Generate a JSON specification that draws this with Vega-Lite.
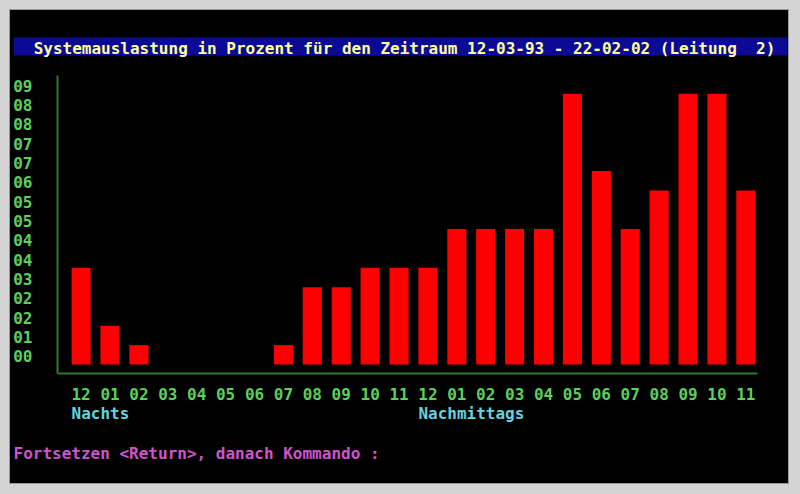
{
  "$schema": "https://vega.github.io/schema/vega-lite/v6.json",
  "width": 779,
  "height": 474,
  "autosize": {"type": "none"},
  "padding": {"left": 9, "top": 9, "right": 12, "bottom": 11},
  "background": "#d4d4d4",
  "config": {
    "view": {"fill": "#000000", "stroke": "#9a9a9a", "strokeWidth": 1},
    "font": "DejaVu Sans Mono",
    "axis": {"grid": false, "ticks": false, "tickSize": 0, "labelFont": "DejaVu Sans Mono", "titleFont": "DejaVu Sans Mono", "labelFontSize": 16, "titleFontSize": 16, "labelFontWeight": "bold", "titleFontWeight": "bold", "labelOverlap": false, "labelBound": false, "labelFlush": false}
  },
  "layer": [
    {
      "data": {"values": [
        {"hour": "12a", "load": 5, "period": "Nachts"},
        {"hour": "01a", "load": 2},
        {"hour": "02a", "load": 1},
        {"hour": "03a", "load": 0},
        {"hour": "04a", "load": 0},
        {"hour": "05a", "load": 0},
        {"hour": "06a", "load": 0},
        {"hour": "07a", "load": 1},
        {"hour": "08a", "load": 4},
        {"hour": "09a", "load": 4},
        {"hour": "10a", "load": 5},
        {"hour": "11a", "load": 5},
        {"hour": "12p", "load": 5, "period": "Nachmittags"},
        {"hour": "01p", "load": 7},
        {"hour": "02p", "load": 7},
        {"hour": "03p", "load": 7},
        {"hour": "04p", "load": 7},
        {"hour": "05p", "load": 14},
        {"hour": "06p", "load": 10},
        {"hour": "07p", "load": 7},
        {"hour": "08p", "load": 9},
        {"hour": "09p", "load": 14},
        {"hour": "10p", "load": 14},
        {"hour": "11p", "load": 9}
      ]},
      "layer": [
        {
          "mark": {"type": "bar", "color": "#ff0000"},
          "encoding": {
            "x": {
              "field": "hour", "type": "nominal", "sort": null,
              "scale": {
                "domain": ["12a","01a","02a","03a","04a","05a","06a","07a","08a","09a","10a","11a","12p","01p","02p","03p","04p","05p","06p","07p","08p","09p","10p","11p"],
                "range": [48, 748], "paddingInner": 0.34, "paddingOuter": 0.28, "align": 0.9
              },
              "axis": {
                "orient": "bottom", "offset": -110, "domainColor": "#2f7a2f", "domainWidth": 2,
                "labelColor": "#5ccf5c", "labelPadding": 13, "labelAngle": 0,
                "labelExpr": "substring(datum.label, 0, 2)",
                "title": "Fortsetzen <Return>, danach Kommando :",
                "titleColor": "#cc55cc", "titleX": 4, "titleY": 85, "titleAlign": "left", "titleBaseline": "alphabetic", "titleAnchor": "start"
              }
            },
            "y": {
              "field": "load", "type": "quantitative",
              "scale": {"domain": [-0.44, 14.97], "range": [364, 66], "nice": false, "zero": false},
              "axis": {
                "orient": "left", "offset": -48, "domainColor": "#2f7a2f", "domainWidth": 2,
                "labelColor": "#5ccf5c", "labelPadding": 25, "labelOverlap": false, "tickCount": 40,
                "values": [0.4, 1.4, 2.4, 3.4, 4.4, 5.4, 6.4, 7.4, 8.4, 9.4, 10.4, 11.4, 12.4, 13.4, 14.4],
                "labelExpr": "['00','01','02','02','03','04','04','05','05','06','07','07','08','08','09'][floor(datum.value)]",
                "title": null
              }
            },
            "y2": {"datum": 0}
          }
        },
        {
          "transform": [{"filter": "isValid(datum.period)"}],
          "mark": {"type": "text", "align": "left", "baseline": "alphabetic", "fontSize": 16, "fontWeight": "bold", "font": "DejaVu Sans Mono", "color": "#66d2dc"},
          "encoding": {
            "x": {"field": "hour", "type": "nominal", "sort": null, "bandPosition": 0},
            "y": {"datum": -2.82},
            "text": {"field": "period"}
          }
        }
      ]
    },
    {
      "data": {"values": [{"edge": 0}, {"edge": 1}]},
      "mark": {"type": "tick", "opacity": 0},
      "encoding": {
        "x": {
          "field": "edge", "type": "quantitative",
          "scale": {"domain": [0, 1], "range": [4, 778], "nice": false, "zero": false},
          "axis": {
            "orient": "top", "offset": -37, "domainColor": "#0a0a96", "domainWidth": 18,
            "labels": false, "ticks": false, "grid": false,
            "title": "Systemauslastung in Prozent für den Zeitraum 12-03-93 - 22-02-02 (Leitung\u00a0 2)",
            "titleColor": "#ffffa0", "titleX": 395, "titleY": 2, "titleAlign": "center", "titleBaseline": "middle"
          }
        }
      }
    }
  ],
  "resolve": {"scale": {"x": "independent"}, "axis": {"x": "independent"}}
}
